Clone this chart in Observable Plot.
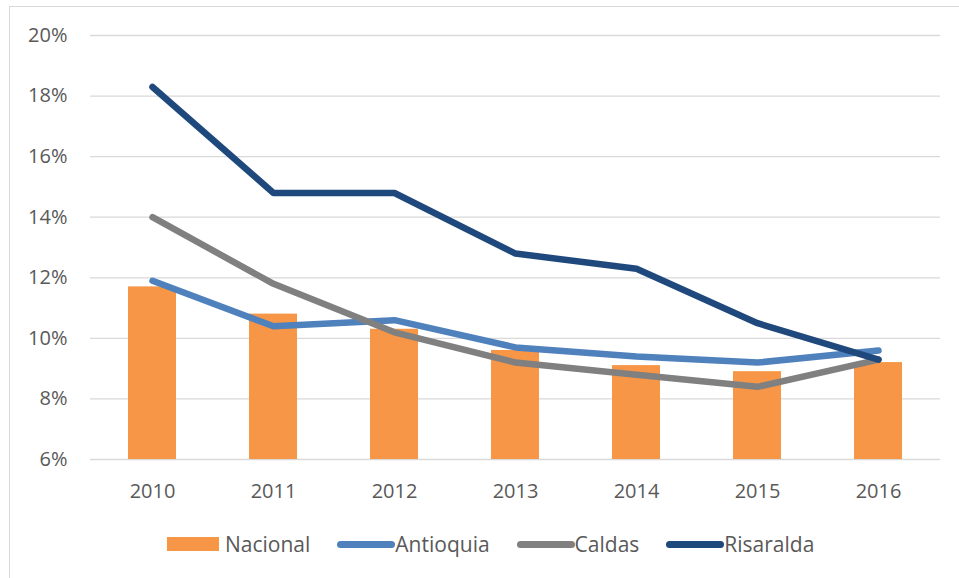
<!DOCTYPE html>
<html>
<head>
<meta charset="utf-8">
<script src="https://cdn.jsdelivr.net/npm/d3@7"></script>
<script src="https://cdn.jsdelivr.net/npm/@observablehq/plot@0.6"></script>
<style>
  html, body { margin: 0; padding: 0; background: #fff; width: 959px; height: 578px; overflow: hidden; }
  body { position: relative; font-family: "Open Sans", sans-serif; }
  #frame { position: absolute; left: 9px; top: 6px; width: 1000px; height: 1000px; border-left: 1px solid #d9d9d9; border-top: 1px solid #d9d9d9; }
  #chart { position: absolute; left: 0; top: 0; }
  #legend { position: absolute; left: 167px; top: 532px; height: 24px; display: flex; align-items: center; font-size: 21px; color: #595959; }
  .item { display: flex; align-items: center; margin-right: 27px; }
  .sw-bar { width: 52px; height: 14px; margin-right: 6px; }
  .sw-line { width: 58px; height: 7px; border-radius: 4px; margin-right: 0px; }
</style>
</head>
<body>
<div id="frame"></div>
<div id="chart"></div>
<div id="legend"></div>
<script>
const years = ["2010", "2011", "2012", "2013", "2014", "2015", "2016"];
const nacional  = [11.7, 10.8, 10.3, 9.6, 9.1, 8.9, 9.2];
const antioquia = [11.9, 10.4, 10.6, 9.7, 9.4, 9.2, 9.6];
const caldas    = [14.0, 11.8, 10.2, 9.2, 8.8, 8.4, 9.3];
const risaralda = [18.3, 14.8, 14.8, 12.8, 12.3, 10.5, 9.3];
const yTicks = [6, 8, 10, 12, 14, 16, 18, 20];
const seriesNames = ["Nacional", "Antioquia", "Caldas", "Risaralda"];
const seriesColors = ["#F79646", "#4F81BD", "#808080", "#1F497D"];

const barRows = years.map((y, i) => ({year: y, v: nacional[i]}));
const lineSeries = [["Antioquia", antioquia], ["Caldas", caldas], ["Risaralda", risaralda]];
const lineRows = lineSeries.flatMap(([name, vals]) => years.map((y, i) => ({year: y, v: vals[i], series: name})));

const chart = Plot.plot({
  width: 959,
  height: 510,
  marginLeft: 90,
  marginRight: 19,
  marginTop: 35,
  marginBottom: 51,
  style: {fontFamily: "Open Sans, sans-serif", fontSize: "20px", background: "transparent", overflow: "visible"},
  x: {type: "band", domain: years, paddingInner: 0.6, paddingOuter: 0.3, label: null},
  y: {domain: [yTicks[0], yTicks[yTicks.length - 1]], label: null},
  color: {domain: seriesNames, range: seriesColors},
  marks: [
    Plot.gridY(yTicks, {stroke: "#d9d9d9", strokeOpacity: 1, strokeWidth: 1.3}),
    Plot.axisY(yTicks, {tickSize: 0, tickPadding: 23, tickFormat: d => d + "%", color: "#595959", label: null}),
    Plot.axisX({tickSize: 0, tickPadding: 24, color: "#595959", label: null}),
    Plot.barY(barRows, {x: "year", y1: yTicks[0], y2: "v", fill: seriesColors[0]}),
    Plot.line(lineRows, {x: "year", y: "v", z: "series", stroke: "series", strokeWidth: 6.5, strokeLinecap: "round", strokeLinejoin: "round"})
  ]
});
document.getElementById("chart").appendChild(chart);

const legend = document.getElementById("legend");
seriesNames.forEach((name, i) => {
  const item = document.createElement("div");
  item.className = "item";
  const sw = document.createElement("div");
  sw.className = i === 0 ? "sw-bar" : "sw-line";
  sw.style.background = seriesColors[i];
  const t = document.createElement("span");
  t.textContent = name;
  item.appendChild(sw);
  item.appendChild(t);
  legend.appendChild(item);
});
</script>
</body>
</html>
